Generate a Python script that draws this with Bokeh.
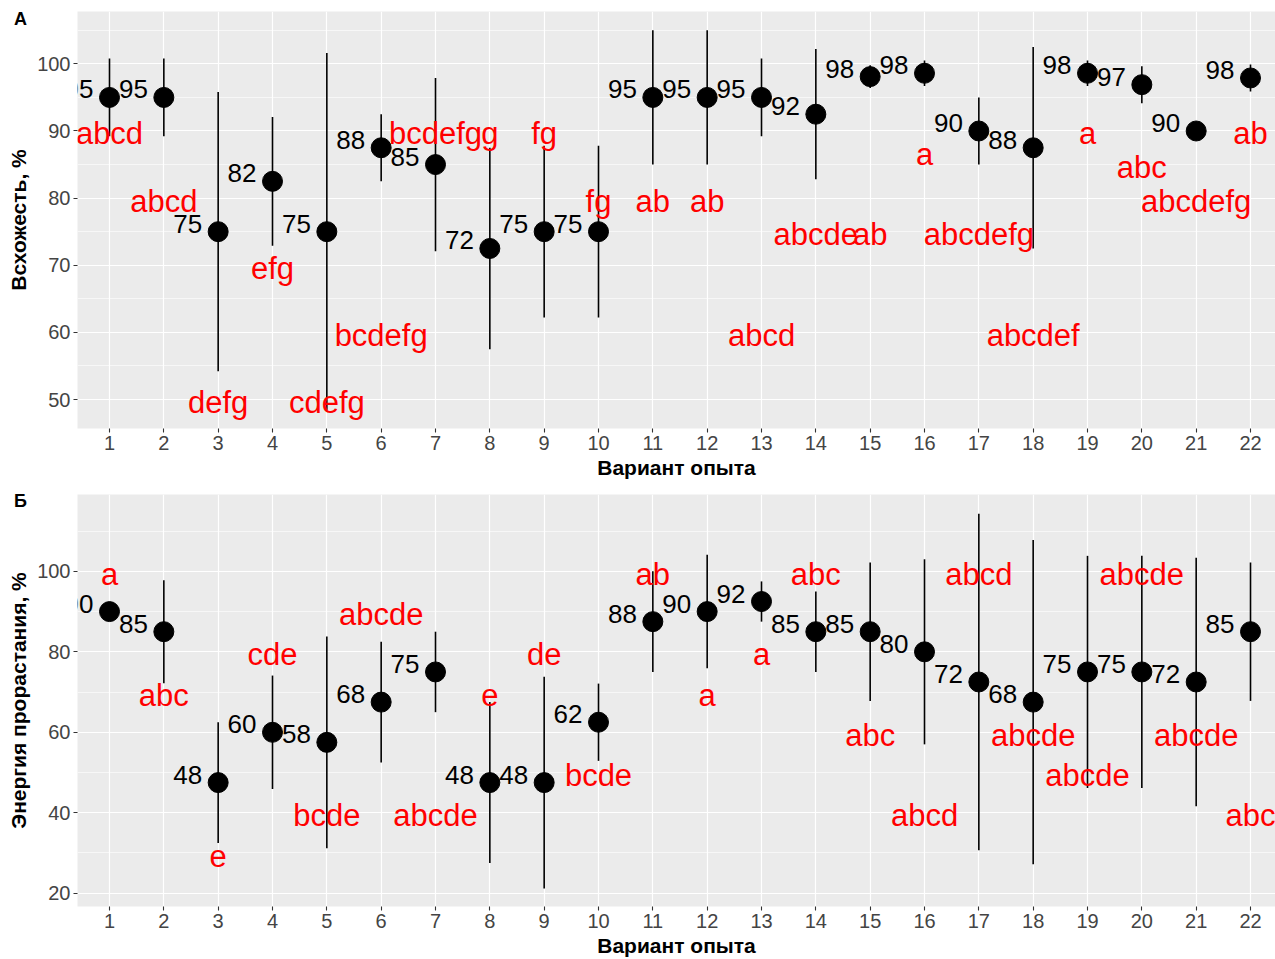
from bokeh.plotting import figure
from bokeh.models import ColumnDataSource, Range1d, FixedTicker, SingleIntervalTicker, Div
from bokeh.layouts import column
from bokeh.embed import file_html
from bokeh.resources import INLINE
from bokeh.core.properties import value

FONT = "Liberation Sans"

variants = list(range(1, 23))

# Panel А: Всхожесть
germ_mean = [95, 95, 75, 82.5, 75, 87.5, 85, 72.5, 75, 75, 95, 95, 95, 92.5,
             98.1, 98.6, 90, 87.5, 98.6, 96.9, 90, 97.9]
germ_err = [5.8, 5.8, 20.8, 9.6, 26.6, 5.0, 12.9, 15.0, 12.8, 12.8, 10.0, 10.0,
            5.8, 9.7, 1.7, 1.9, 5.0, 15.0, 1.9, 2.75, 0, 2.0]
germ_label = ["95", "95", "75", "82", "75", "88", "85", "72", "75", "75", "95",
              "95", "95", "92", "98", "98", "90", "88", "98", "97", "90", "98"]
germ_letters = ["abcd", "abcd", "defg", "efg", "cdefg", "bcdefg", "bcdefg", "g",
                "fg", "fg", "ab", "ab", "abcd", "abcde", "ab", "a", "abcdefg",
                "abcdef", "a", "abc", "abcdefg", "ab"]
germ_letter_y = [90, 80, 50, 70, 50, 60, 90, 90, 90, 80, 80, 80, 60, 75, 75, 87,
                 75, 60, 90, 85, 80, 90]

# Panel Б: Энергия прорастания
energy_mean = [90, 85, 47.5, 60, 57.5, 67.5, 75, 47.5, 47.5, 62.5, 87.5, 90, 92.5,
               85, 85, 80, 72.5, 67.5, 75, 75, 72.5, 85]
energy_err = [0, 12.8, 15, 14.1, 26.3, 15, 10, 20, 26.3, 9.6, 12.5, 14.1, 5, 10,
              17.2, 23, 41.8, 40.3, 28.85, 28.85, 30.9, 17.2]
energy_label = ["90", "85", "48", "60", "58", "68", "75", "48", "48", "62", "88",
                "90", "92", "85", "85", "80", "72", "68", "75", "75", "72", "85"]
energy_letters = ["a", "abc", "e", "cde", "bcde", "abcde", "abcde", "e", "de",
                  "bcde", "ab", "a", "a", "abc", "abc", "abcd", "abcd", "abcde",
                  "abcde", "abcde", "abcde", "abc"]
energy_letter_y = [100, 70, 30, 80, 40, 90, 40, 70, 80, 50, 100, 70, 80, 100, 60,
                   40, 100, 60, 50, 100, 60, 40]

x_title = "Вариант опыта"


def make_panel(mean, err, labels, letters, letter_y, y_title,
               ylo, yhi, interval, height, border_top, border_bottom):
    src = ColumnDataSource(dict(
        x=variants, m=mean,
        lo=[a - b for a, b in zip(mean, err)],
        hi=[a + b for a, b in zip(mean, err)],
        lab=labels, let=letters, ly=letter_y))
    p = figure(width=1275, height=height,
               x_range=Range1d(0.411, 22.46), y_range=Range1d(ylo, yhi),
               output_backend="svg", toolbar_location=None,
               min_border_left=77, min_border_right=0,
               min_border_top=border_top, min_border_bottom=border_bottom)
    p.background_fill_color = "#EBEBEB"
    p.border_fill_color = "white"
    p.outline_line_color = None

    p.xaxis.ticker = FixedTicker(ticks=variants, minor_ticks=[])
    p.yaxis.ticker = SingleIntervalTicker(interval=interval, num_minor_ticks=2)
    p.xgrid.grid_line_color = "white"
    p.xgrid.grid_line_width = 1.2
    p.ygrid.grid_line_color = "white"
    p.ygrid.grid_line_width = 1.2
    p.ygrid.minor_grid_line_color = "white"
    p.ygrid.minor_grid_line_width = 0.6

    for ax in (p.xaxis[0], p.yaxis[0]):
        ax.axis_line_color = None
        ax.major_tick_line_color = "#333333"
        ax.major_tick_line_width = 1.1
        ax.major_tick_out = 4
        ax.major_tick_in = 0
        ax.minor_tick_line_color = None
        ax.major_label_text_font = FONT
        ax.major_label_text_font_size = "20px"
        ax.major_label_text_color = "#444444"
        ax.major_label_standoff = 3
        ax.axis_label_text_font = FONT
        ax.axis_label_text_font_size = "21px"
        ax.axis_label_text_font_style = "bold"
        ax.axis_label_text_color = "black"
    p.xaxis.axis_label = x_title
    p.xaxis.axis_label_standoff = 3
    p.yaxis.axis_label = y_title
    p.yaxis.axis_label_standoff = 4

    p.segment(x0="x", y0="lo", x1="x", y1="hi", source=src,
              line_color="black", line_width=1.6)
    p.scatter(x="x", y="m", source=src, size=20, fill_color="black",
              line_color="black")
    p.text(x="x", y="m", text="lab", source=src, text_align="right",
           text_baseline="alphabetic", x_offset=-16, y_offset=-8,
           text_font=value(FONT), text_font_size="26px", text_color="black")
    p.text(x="x", y="ly", text="let", source=src, text_align="center",
           text_baseline="alphabetic", y_offset=3,
           text_font=value(FONT), text_font_size="31px", text_color="#FF0000")
    return p


p1 = make_panel(germ_mean, germ_err, germ_label, germ_letters, germ_letter_y,
                "Всхожесть, %", 45.68, 107.8, 10, 483, 11, 55)
p2 = make_panel(energy_mean, energy_err, energy_label, energy_letters,
                energy_letter_y, "Энергия прорастания, %", 16.7, 119.1, 20,
                476, 11, 49)


def panel_tag(text, top):
    return Div(text=text, width=20, height=22,
               styles={"position": "absolute", "left": "9px", "top": f"{top}px",
                       "font-family": FONT, "font-weight": "bold",
                       "font-size": "18px", "color": "black",
                       "line-height": "22px"})


layout = column(p1, p2, panel_tag("А", 3), panel_tag("Б", 485), spacing=0)
open("out.html", "w").write(file_html(layout, INLINE))
